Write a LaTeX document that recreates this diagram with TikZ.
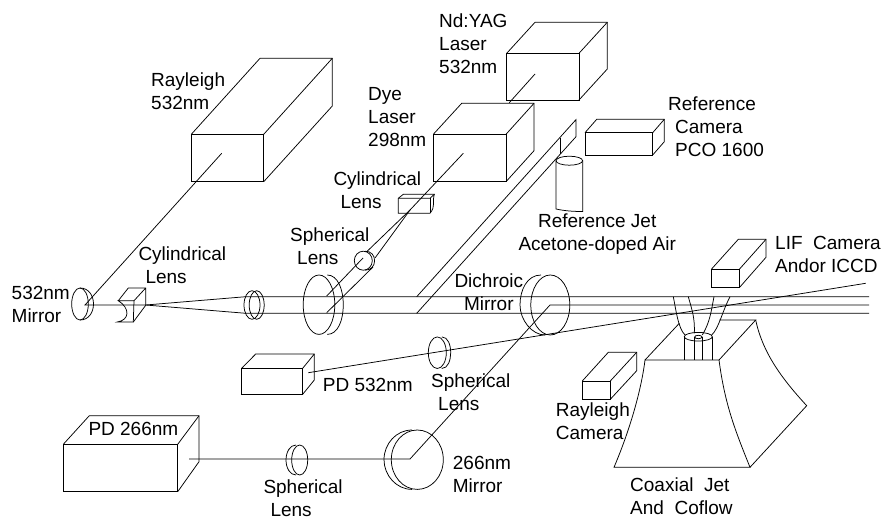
\documentclass[tikz,border=0pt]{standalone}
\usepackage{fontspec}
\setmainfont{Liberation Sans}
\usepackage{tikz}
\usetikzlibrary{positioning,calc}
\tikzset{
    optic/.style={draw,line width=0.75pt,line join=miter},
    beam/.style={draw,line width=0.75pt},
    lbl/.style={anchor=west,inner sep=0pt,align=left,font=\fontsize{19}{23}\selectfont},
    lblc/.style={anchor=west,inner sep=0pt,align=center,font=\fontsize{19}{23}\selectfont},
}
% front corners, back x's, back y's
\newcommand{\solidbox}[8]{%
    \draw[optic] (#1,#2) rectangle (#3,#4);
    \draw[optic] (#1,#2) -- (#5,#7) -- (#6,#7) -- (#6,#8) -- (#3,#4);
    \draw[optic] (#3,#2) -- (#6,#7);
}
\begin{document}
\begin{tikzpicture}[x=1pt,y=-1pt]
    \useasboundingbox (0,0) rectangle (883,519);

    % ---- beam points ----
    \coordinate (raysrc) at (221.7,153.3);
    \coordinate (mirA) at (85,305);
    \coordinate (cylA) at (145.7,305);
    \coordinate (upA) at (245.7,296.7);
    \coordinate (lowA) at (245.7,313.3);
    \coordinate (upEnd) at (869,296.7);
    \coordinate (lowEnd) at (869,313.3);
    \coordinate (dyesrc) at (463.3,153.3);
    \coordinate (cylB) at (410,210);
    \coordinate (sphUp) at (366.7,251.7);
    \coordinate (sphLow) at (375,258);
    \coordinate (sphUpB) at (363,258);
    \coordinate (sphLowB) at (373,267);
    \coordinate (mergeUp) at (326.7,296);
    \coordinate (mergeLow) at (326.7,312.7);
    \coordinate (yagsrc) at (535,74);
    \coordinate (yagstop) at (509.3,102.7);
    \coordinate (bandUpA) at (416.7,296.7);
    \coordinate (bandLowA) at (416.7,313.3);
    \coordinate (bandUpB) at (576,119.6);
    \coordinate (bandLowB) at (576,136.7);
    \coordinate (bandUpC) at (560,137.7);
    \coordinate (bandLowC) at (560,154.4);
    \coordinate (dich) at (550,305);
    \coordinate (dichEnd) at (869,305);
    \coordinate (mirB) at (410,459);
    \coordinate (pdbsrc) at (189,459);
    \coordinate (pdasrc) at (308.3,372.7);
    \coordinate (pdaEnd) at (865.7,283.3);

    % ---- lasers, detectors, cameras ----
    \solidbox{191.3}{134.3}{263.7}{181.7}{260}{332.3}{58.3}{106}
    \solidbox{433.3}{134.3}{506}{181.7}{461.7}{534}{103.3}{150.7}
    \solidbox{506.7}{53.3}{579}{100}{535}{607.3}{22.3}{69}
    \solidbox{585}{132.7}{652.7}{155}{596.7}{664.3}{119.3}{141.7}
    \solidbox{711.3}{269.3}{739.3}{287.7}{738.3}{766}{239.3}{257.3}
    \solidbox{582.3}{381}{610.3}{399.3}{608.3}{636.7}{352.3}{370.7}
    \solidbox{241.7}{368.3}{302.7}{394.3}{255.7}{314.3}{354}{380}
    \solidbox{63.3}{444.3}{177.7}{491.7}{89.3}{199}{415.7}{461.7}

    % ---- reference jet ----
    \draw[optic] (569.3,160.7) ellipse [x radius=13.3pt,y radius=4.5pt];
    \draw[optic] (556,160.7) -- (556,209) .. controls (565,211) and (574,211.5) .. (582.7,211.5) -- (582.7,160.7);

    % ---- mirrors and lenses ----
    \draw[optic] (80,304) ellipse [x radius=8.3pt,y radius=16pt];
    \draw[optic] (80,288) .. controls (89,288) and (93.5,296) .. (93.5,304) .. controls (93.5,312) and (89,320) .. (80,320);
    \draw[optic] (252,305) ellipse [x radius=8pt,y radius=14.3pt];
    \draw[optic] (256.7,305) ellipse [x radius=7.5pt,y radius=14.3pt];
    \draw[optic] (319,304.7) ellipse [x radius=15.8pt,y radius=29.7pt];
    \draw[optic] (327.3,275) .. controls (338,275) and (343.3,290) .. (343.3,304.7) .. controls (343.3,320) and (338,334.4) .. (327.3,334.4);
    \draw[optic] (363.3,260.7) ellipse [x radius=9pt,y radius=9.5pt];
    \draw[optic] (365,251.2) .. controls (371,251.2) and (374.6,255) .. (374.6,260.7) .. controls (374.6,266) and (371,270.2) .. (365,270.2);
    \draw[optic] (550.3,305) ellipse [x radius=19.5pt,y radius=30pt];
    \draw[optic] (541,275) .. controls (527,275) and (520,290) .. (520,305) .. controls (520,320) and (532,335) .. (545,335);
    \draw[optic] (437.3,352.7) ellipse [x radius=9pt,y radius=15.8pt];
    \draw[optic] (441.8,336.9) .. controls (448,336.9) and (450.7,345) .. (450.7,352.7) .. controls (450.7,360) and (448,368.5) .. (441.8,368.5);
    \draw[optic] (417.3,459.7) ellipse [x radius=26pt,y radius=29.7pt];
    \draw[optic] (412,430) .. controls (396,430) and (384,444) .. (384,459.7) .. controls (384,475) and (396,489.4) .. (412,489.4);
    \draw[optic] (299.7,460) ellipse [x radius=8pt,y radius=15pt];
    \draw[optic] (296,445) .. controls (290,445) and (286,452) .. (286,460) .. controls (286,468) and (290,475) .. (296,475);

    % ---- cylindrical lenses ----
    \draw[optic] (118.3,300.7) -- (128.3,288) -- (145.7,288) -- (145.7,305.3) -- (133.3,322) -- (117.3,322)
        .. controls (130,320) and (130,308) .. (118.3,300.7) -- (134,300.7) -- (145.7,288);
    \draw[optic] (134,300.7) -- (133.3,322);
    \draw[optic] (398.3,198.3) -- (403.3,194.3) -- (434.3,194.3) .. controls (432,202) and (436,206) .. (430,213.3)
        -- (398.3,213.3) -- cycle;
    \draw[optic] (398.3,198.3) -- (430,198.3) -- (434.3,194.3);
    \draw[optic] (430,198.3) -- (430,213.3);

    % ---- coaxial jet and coflow ----
    \draw[optic] (645,360) -- (719,360) -- (755.7,320) -- (719.3,320);
    \draw[optic] (645,360) -- (679.3,323.3);
    \draw[optic] (645,360) .. controls (642,385) and (632,425) .. (614,467.3) -- (750,467.3)
        .. controls (735,430) and (725,405) .. (719,360);
    \draw[optic] (750,467.3) -- (806.7,405.7) .. controls (785,382) and (763,355) .. (755.7,320);
    \draw[optic] (684.3,336.7) -- (684.3,360);
    \draw[optic] (694.3,336.7) -- (694.3,360);
    \draw[optic] (702.3,336.7) -- (702.3,360);
    \draw[optic] (712.3,336.7) -- (712.3,360);
    \draw[optic] (698.3,336.7) ellipse [x radius=14pt,y radius=4.3pt];
    \draw[optic] (698.3,337) ellipse [x radius=3.7pt,y radius=1.7pt];
    \draw[optic] (673.3,296.7) .. controls (676,310) and (678,328) .. (685,335);
    \draw[optic] (688.3,296.7) .. controls (692,310) and (695,318) .. (694.3,333.3);
    \draw[optic] (714,296.7) .. controls (711,312) and (710,322) .. (702.3,335);
    \draw[optic] (730,296.7) .. controls (722,312) and (719,328) .. (711.7,335);

    % ---- beams ----
    \draw[beam] (raysrc) -- (mirA) -- (cylA) -- (upA) -- (upEnd);
    \draw[beam] (cylA) -- (lowA) -- (lowEnd);
    \draw[beam] (dyesrc) -- (cylB) -- (sphUp);
    \draw[beam] (cylB) -- (sphLow);
    \draw[beam] (sphUpB) -- (mergeUp);
    \draw[beam] (sphLowB) -- (mergeLow);
    \draw[beam] (yagsrc) -- (yagstop);
    \draw[beam] (bandUpA) -- (bandUpB) -- (bandLowB) -- (bandLowA);
    \draw[beam] (bandUpC) -- (bandLowC);
    \draw[beam] (dichEnd) -- (dich) -- (mirB) -- (pdbsrc);
    \draw[beam] (pdasrc) -- (pdaEnd);

    % ---- labels ----
    \node[lbl] (rayleighlbl) at (151,91.5) {Rayleigh\\532nm};
    \node[lbl] (yaglbl) at (439,44) {Nd:YAG\\Laser\\532nm};
    \node[lbl] (dyelbl) at (368,117.5) {Dye\\Laser\\298nm};
    \node[lbl] (refcamlbl) at (668,126.5) {Reference\\\hspace*{7pt}Camera\\\hspace*{7pt}PCO 1600};
    \node[lbl] (cylBlbl) at (333.3,190) {Cylindrical\\\hspace*{7pt}Lens};
    \node[lbl] (sphBlbl) at (290,246.7) {Spherical\\\hspace*{7pt}Lens};
    \node[lbl] (cylAlbl) at (138.3,265) {Cylindrical\\\hspace*{7pt}Lens};
    \node[lbl] (mirAlbl) at (11.5,304.5) {532nm\\Mirror};
    \node[lblc] (refjetlbl) at (518.3,234) {Reference Jet\\Acetone-doped Air};
    \node[lbl] (liflbl) at (775,254) {LIF\ \ Camera\\Andor ICCD};
    \node[lblc] (dichlbl) at (454.3,292.3) {Dichroic\\Mirror};
    \node[lbl] (pdalbl) at (322.7,385) {PD 532nm};
    \node[lbl] (sphClbl) at (431,392.3) {Spherical\\\hspace*{7pt}Lens};
    \node[lbl] (pdblbl) at (88.3,429) {PD 266nm};
    \node[lbl] (sphDlbl) at (263.3,498) {Spherical\\\hspace*{7pt}Lens};
    \node[lbl] (mirBlbl) at (452.7,474.8) {266nm\\Mirror};
    \node[lbl] (raycamlbl) at (555.7,421.7) {Rayleigh\\Camera};
    \node[lbl] (coaxlbl) at (630,496) {Coaxial\ \ Jet\\And\ \ Coflow};

\end{tikzpicture}
\end{document}
